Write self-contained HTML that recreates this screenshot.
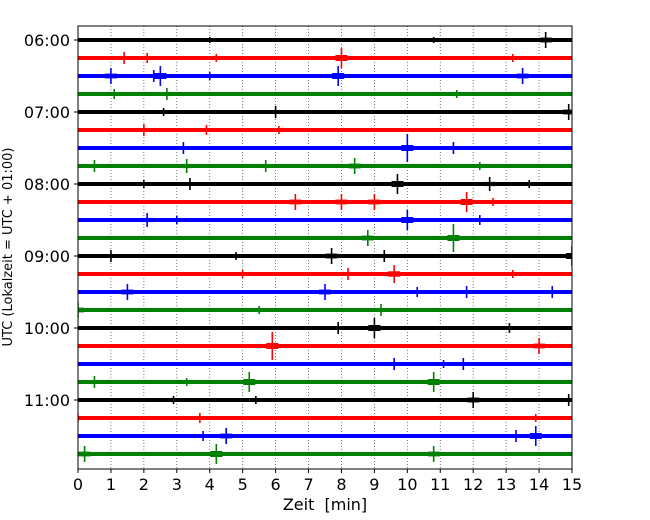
<!DOCTYPE html>
<html><head><meta charset="utf-8"><style>
body{margin:0;background:#fff;}
svg{display:block;font-family:"DejaVu Sans","Liberation Sans",sans-serif;}
</style></head><body>
<svg id="chart" width="650" height="520"><defs><clipPath id="pc"><rect x="78" y="26" width="494" height="443"/></clipPath></defs></svg>
<script>
const rowColors=["#000000","#ff0000","#0000ff","#008000"];
const hourLabels=["06:00","07:00","08:00","09:00","10:00","11:00"];
const xTicks=[0,1,2,3,4,5,6,7,8,9,10,11,12,13,14,15];
// event times (min) per row
const eventTimes=[
[14.2,10.8,4],[8,1.4,2.1,4.2,13.2],[2.5,1,7.9,13.5,4,2.3],[1.1,2.7,11.5],
[6,14.9,2.6],[2,3.9,6.1],[10,3.2,11.4],[0.5,3.3,5.7,8.4,12.2],
[9.7,12.5,2,3.4,13.7],[6.6,8,9,11.8,12.6],[2.1,10,12.2,3],[11.4,8.8],
[1,7.7,9.3,15,4.8],[5,8.2,9.6,13.2],[1.5,7.5,10.3,11.8,14.4],[9.2,5.5,0],
[9,7.9,13.1],[5.9,14],[9.6,11.1,11.7],[5.2,10.8,0.5,3.3],
[12,5.4,2.9,14.9],[3.7,0,13.9],[4.5,13.9,13.3,3.8],[4.2,0.2,10.8]];
// event half-amplitudes (px) per row
const eventAmps=[
[8,3,3],[10,6,5,4,4],[10,8,10,8,4,6],[5,6,4],
[6,8,4],[6,5,4],[14,6,6],[6,7,6,8,4],
[10,7,4,6,4],[8,8,8,10,4],[7,10,5,4],[14,8],
[6,8,6,10,4],[4,6,9,4],[8,8,5,6,6],[6,4,8],
[10,6,5],[14,8],[6,4,6],[10,10,6,4],
[8,4,4,6],[5,4,4],[8,10,6,5],[10,8,8]];
const L=78,R=572,T=26,B=469,Y0=40,DY=18;
const xs=t=>L+(R-L)*t/15;
const ys=i=>Y0+DY*i;
const svg=document.getElementById('chart');
const NS="http://www.w3.org/2000/svg";
function mk(tag,at,parent){const e=document.createElementNS(NS,tag);for(const k in at)e.setAttribute(k,at[k]);(parent||svg).appendChild(e);return e;}
xTicks.forEach(t=>{if(t>0&&t<15){const g=mk('line',{x1:xs(t),x2:xs(t),y1:T,y2:B,stroke:'#555','stroke-width':0.8,'stroke-dasharray':'1,2'});

}});
const plot=mk('g',{'clip-path':'url(#pc)'});


eventTimes.forEach((row,i)=>{
  const c=rowColors[i%4];const y=ys(i);
  const gr=mk('g',{},plot);
  
  
  mk('line',{x1:L,x2:R,y1:y,y2:y,stroke:c,'stroke-width':4},gr);
  row.forEach((t,j)=>{
    const a=eventAmps[i][j];const x=xs(t);
    const s=mk('line',{x1:x,x2:x,y1:y-a,y2:y+a,stroke:c,'stroke-width':1.6},gr);
    
    
    const h=Math.min(a*0.6,6);
    mk('rect',{x:x-6,y:y-h/2,width:12,height:h,fill:c},gr);
  });
});
const fr=mk('rect',{x:L,y:T,width:R-L,height:B-T,fill:'none',stroke:'#000','stroke-width':1});


xTicks.forEach(t=>{mk('line',{x1:xs(t),x2:xs(t),y1:B,y2:B+4,stroke:'#000'});
 const tx=mk('text',{x:xs(t),y:B+21,'text-anchor':'middle','font-size':16});tx.textContent=t;
 
 });
hourLabels.forEach((h,k)=>{const y=ys(k*4);mk('line',{x1:L-4,x2:L,y1:y,y2:y,stroke:'#000'});
 const tx=mk('text',{x:L-8,y:y+6,'text-anchor':'end','font-size':16});tx.textContent=h;
 
 });
const xl=mk('text',{x:325,y:510,'text-anchor':'middle','font-size':16});xl.textContent='Zeit\u00a0\u00a0[min]';


const yl=mk('text',{x:0,y:0,'text-anchor':'middle','font-size':13,transform:'translate(12,247) rotate(-90)'});yl.textContent='UTC (Lokalzeit = UTC + 01:00)';


</script>
</body></html>
